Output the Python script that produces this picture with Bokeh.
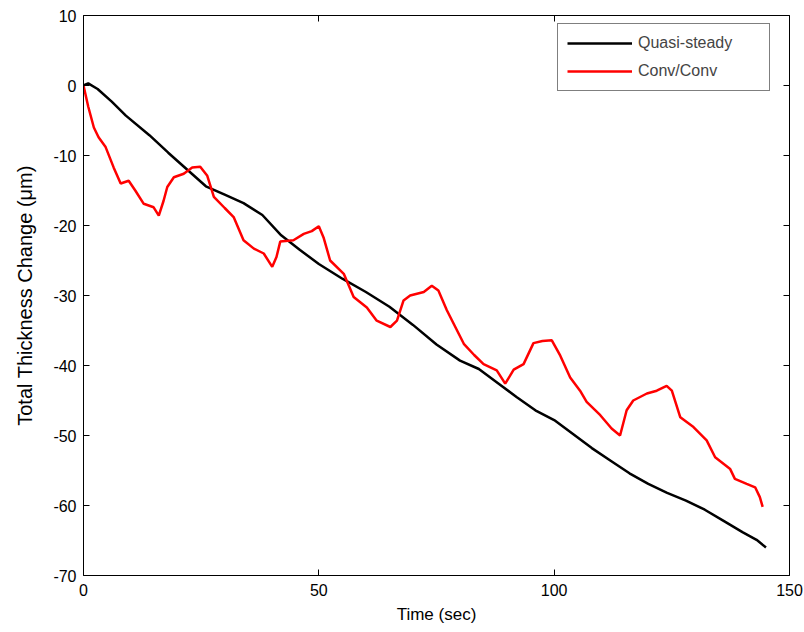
from bokeh.plotting import figure
from bokeh.models import Range1d, LinearAxis, FixedTicker, Legend, LegendItem
from bokeh.embed import file_html
from bokeh.resources import INLINE

# Quasi-steady (black)
qs_t = [0, 1, 3, 6, 9, 14, 18, 22, 26, 30, 34, 38, 42, 46, 50, 55, 60, 65, 70, 75,
        80, 84, 88, 92, 96, 100, 104, 108, 112, 116, 120, 124, 128, 132, 136, 140, 143, 145]
qs_y = [0, 0.3, -0.5, -2.3, -4.3, -7.1, -9.6, -12, -14.4, -15.6, -16.8, -18.5, -21.4, -23.5,
        -25.5, -27.6, -29.5, -31.6, -34.2, -37, -39.3, -40.5, -42.5, -44.5, -46.4, -47.8,
        -49.8, -51.8, -53.6, -55.4, -56.9, -58.2, -59.3, -60.6, -62.2, -63.8, -64.9, -66]

# Conv/Conv (red)
cc_t = [0, 1, 2.2, 3.2, 4.7, 6.4, 7.9, 9.6, 11, 12.8, 14.9, 16, 17, 17.8, 19.2, 21.3, 23.1,
        24.8, 26.3, 27.7, 30, 31.9, 34, 36.2, 38.3, 40.1, 41, 41.8, 44.6, 46.8, 48.5, 50, 51,
        52.4, 55.3, 57.4, 60.2, 62.3, 65.2, 66.6, 68, 69.4, 72.3, 74, 75.4, 77.2, 80.8, 83,
        85, 87.8, 89.6, 91.4, 93.5, 95.6, 97.5, 99.5, 101.3, 103.4, 105.5, 106.9, 109.8,
        112.2, 114, 115.4, 116.8, 119.7, 121.8, 123.9, 125, 126.8, 129.6, 132.4, 134.2,
        137.4, 138.4, 140.9, 142.7, 143.7, 144.3]
cc_y = [0, -3, -6, -7.4, -8.8, -11.7, -14.0, -13.6, -15, -16.9, -17.4, -18.6, -16.5, -14.5,
        -13.1, -12.6, -11.7, -11.6, -12.9, -15.9, -17.5, -18.8, -22.1, -23.3, -24, -25.9,
        -24.5, -22.3, -22.1, -21.2, -20.8, -20.1, -21.7, -25, -26.9, -30.2, -31.7, -33.6,
        -34.5, -33.6, -30.7, -30, -29.5, -28.6, -29.3, -32.1, -36.9, -38.5, -39.8, -40.7,
        -42.6, -40.6, -39.8, -36.8, -36.5, -36.4, -38.6, -41.7, -43.6, -45.2, -47.1, -49,
        -50, -46.4, -45, -44, -43.6, -42.9, -43.6, -47.4, -48.8, -50.7, -53.1, -54.8,
        -56.2, -56.9, -57.4, -58.8, -60.2]

x_ticks = [0, 50, 100, 150]
y_ticks = [-70, -60, -50, -40, -30, -20, -10, 0, 10]
series_names = ["Quasi-steady", "Conv/Conv"]

FONT = "Liberation Sans"

p = figure(width=804, height=632, output_backend="svg", toolbar_location=None,
           x_range=Range1d(0, 150), y_range=Range1d(-70, 10),
           min_border_left=83, min_border_right=15, min_border_top=15, min_border_bottom=57,
           x_axis_label="Time (sec)", y_axis_label="Total Thickness Change (\u03bcm)")
p.grid.visible = False
p.outline_line_color = None
p.background_fill_color = "white"
p.border_fill_color = "white"

def style_axis(ax, ticks, show_labels=True):
    ax.ticker = FixedTicker(ticks=ticks)
    ax.axis_line_color = "black"
    ax.axis_line_width = 1
    ax.major_tick_in = 6
    ax.major_tick_out = 0
    ax.major_tick_line_color = "black"
    ax.minor_tick_line_color = None
    ax.major_label_text_font = FONT
    ax.major_label_text_font_size = "16px"
    ax.major_label_text_color = "black"
    if show_labels:
        ax.major_label_overrides = {t: str(t) for t in ticks}
    else:
        ax.major_label_overrides = {t: "" for t in ticks}
    ax.axis_label_text_font = FONT
    ax.axis_label_text_font_size = "17px"
    ax.axis_label_text_font_style = "normal"
    ax.axis_label_text_color = "black"

style_axis(p.xaxis[0], x_ticks)
style_axis(p.yaxis[0], y_ticks)
p.xaxis[0].major_label_standoff = 8
p.xaxis[0].axis_label_standoff = 6
p.yaxis[0].major_label_standoff = 7
p.yaxis[0].axis_label_standoff = 14
p.yaxis[0].axis_label_text_font_size = "20px"

top = LinearAxis()
right = LinearAxis()
style_axis(top, x_ticks, show_labels=False)
style_axis(right, y_ticks, show_labels=False)
top.major_label_standoff = 0
right.major_label_standoff = 0
p.add_layout(top, "above")
p.add_layout(right, "right")

r1 = p.line(qs_t, qs_y, line_color="black", line_width=2.5)
r2 = p.line(cc_t, cc_y, line_color="red", line_width=2.5)

legend = Legend(items=[LegendItem(label=series_names[0], renderers=[r1]),
                       LegendItem(label=series_names[1], renderers=[r2])],
                location=(474, 484), padding=9, spacing=8, margin=0,
                glyph_width=65, glyph_height=20, label_height=20, label_width=122,
                label_standoff=6, label_text_font=FONT, label_text_font_size="16px",
                border_line_color="black", border_line_width=1,
                background_fill_color="white", background_fill_alpha=1)
p.add_layout(legend, "center")

open("out.html", "w").write(file_html(p, INLINE))
